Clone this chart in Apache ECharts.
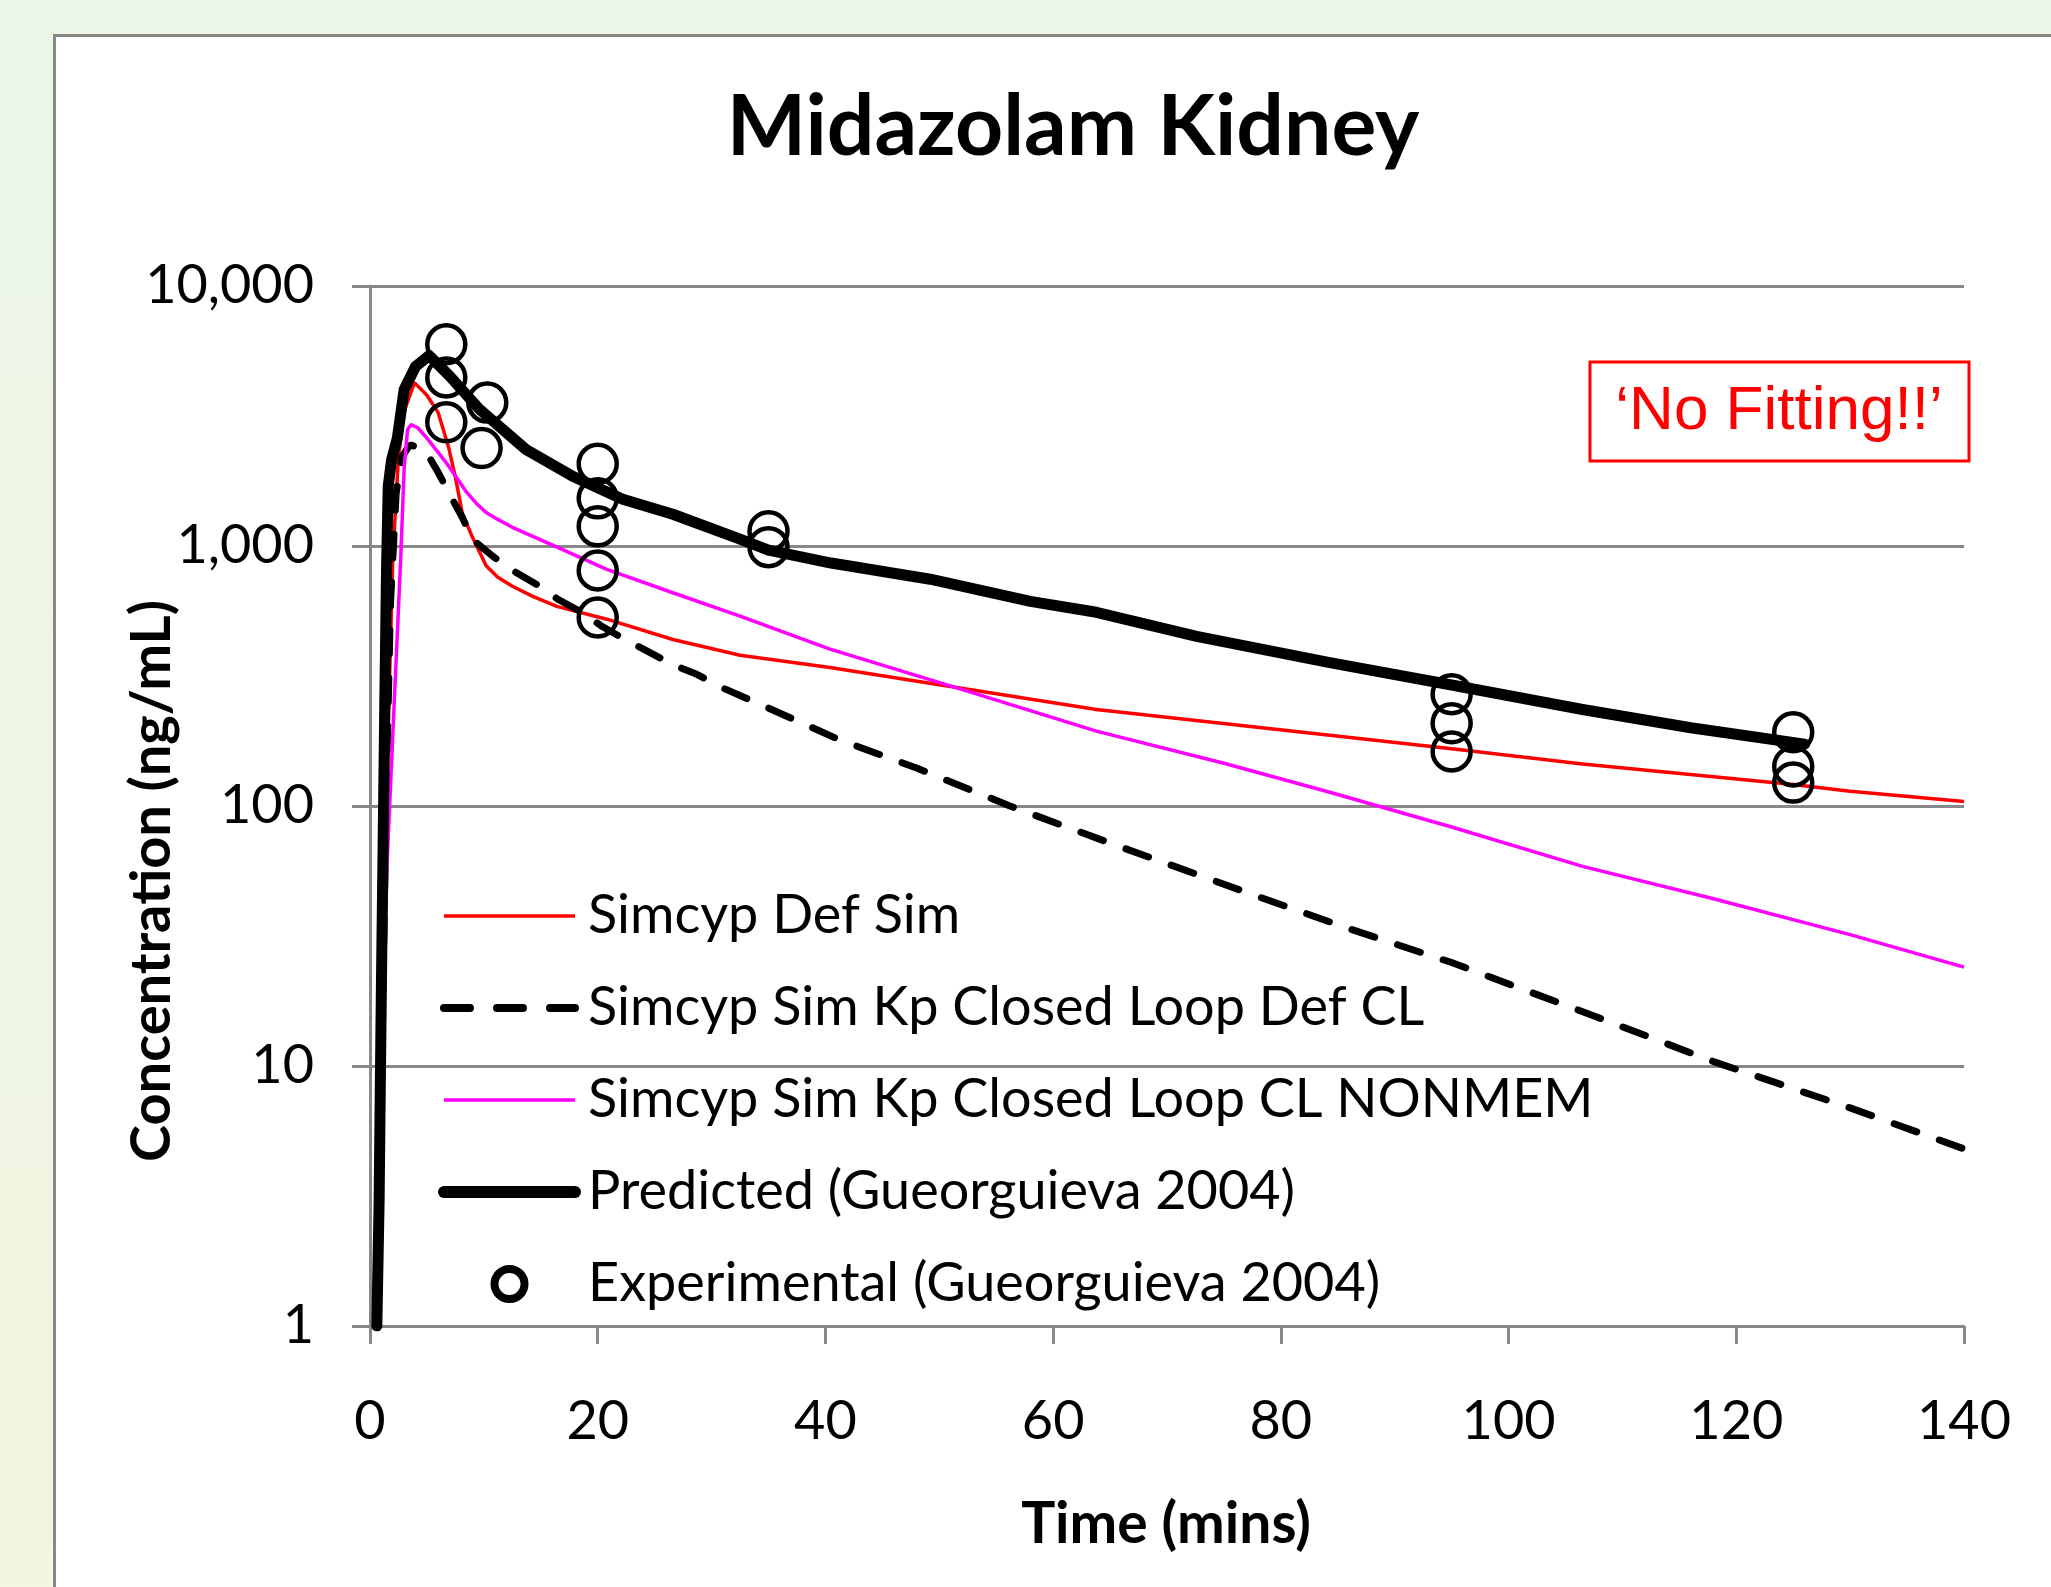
<!DOCTYPE html>
<html>
<head>
<meta charset="utf-8">
<title>Midazolam Kidney</title>
<script src="https://cdn.jsdelivr.net/npm/echarts@6/dist/echarts.min.js"></script>
<style>
  html, body { margin: 0; padding: 0; }
  body {
    width: 2051px; height: 1587px; overflow: hidden; position: relative;
    background: linear-gradient(to bottom, #ebf6e7 0%, #eff6e4 60%, #f3f6e0 100%);
  }
  /* white chart panel with grey frame (runs off the right and bottom edge) */
  #panel {
    position: absolute; left: 53px; top: 34px; width: 2100px; height: 1700px;
    background: #fff; border-left: 3px solid #888; border-top: 3px solid #888;
  }
  #main { position: absolute; left: 0; top: 0; width: 2051px; height: 1587px; }
</style>
</head>
<body>
<div id="panel"></div>
<div id="main"></div>
<script>
// time (mins), concentration (ng/mL)
var simcypDefSim = [
  [0.7, 1.5], [1.0, 5], [1.3, 30], [1.6, 200], [2.0, 900], [2.5, 2200], [3.0, 3300],
  [3.9, 4250], [5.0, 3800], [6.0, 3250], [6.9, 2400], [7.5, 1840], [8.1, 1340],
  [9.0, 1080], [10.2, 840], [11.2, 760], [12.5, 700], [14.3, 640], [16.4, 586],
  [20.8, 523], [26.6, 437], [32.5, 380], [40.4, 341], [51.4, 286], [63.8, 235],
  [84.3, 187], [95, 166], [106.5, 145], [125, 121], [130, 114], [140, 104]
];
var simcypKpDefCL = [
  [0.7, 1], [1.0, 8], [1.4, 100], [1.8, 600], [2.3, 1600], [2.8, 2200], [3.5, 2450],
  [4.8, 2350], [5.9, 1950], [7.0, 1580], [8.1, 1290], [9.0, 1060], [10.8, 912],
  [12.7, 798], [14.6, 713], [16.5, 624], [18.6, 556], [20.4, 490], [22.4, 437],
  [24.6, 389], [26.5, 351], [28.7, 321], [30.7, 288], [35, 238], [41.2, 180],
  [48, 140], [56.2, 100], [65, 72], [77.9, 45], [86.1, 33.6], [95, 25],
  [107.8, 15.4], [118, 10.4], [130, 6.9], [140, 4.8]
];
var simcypKpNonmem = [
  [0.6, 4], [1.0, 12], [1.5, 60], [2.14, 257], [2.7, 900], [3.0, 2000], [3.3, 2800],
  [3.6, 2930], [4.2, 2850], [5.0, 2600], [6.7, 2090], [8.5, 1607], [9.4, 1450],
  [10.2, 1346], [11.3, 1260], [12.5, 1180], [14.9, 1060], [20.8, 813], [26.6, 661],
  [32.5, 537], [40.4, 401], [51.4, 286], [63.8, 194], [75, 146], [84.3, 113],
  [95, 83], [106.5, 58.6], [118, 44], [130, 32], [140, 24]
];
var predicted = [
  [0.6, 1], [0.8, 3], [0.9, 8], [1.0, 20], [1.15, 70], [1.3, 250], [1.45, 800],
  [1.6, 1700], [1.9, 2150], [2.4, 2600], [3.0, 4000], [4.0, 4900], [5.2, 5400],
  [7.0, 4500], [9.6, 3360], [13.7, 2350], [17.8, 1855], [22.2, 1514], [26.6, 1325],
  [32.5, 1062], [35, 965], [40.5, 860], [49.2, 745], [58, 612], [63.8, 556],
  [72.6, 449], [84.3, 356], [95, 292], [106.5, 235], [116, 200], [126, 173]
];
var experimental = [
  [6.7, 5970], [6.7, 4450], [6.7, 2990], [10.3, 3560], [9.8, 2380],
  [20, 2070], [20, 1525], [20, 1190], [20, 805], [20, 531],
  [35, 1140], [35, 990],
  [95, 269], [95, 208], [95, 162],
  [125, 192], [125, 142], [125, 123]
];
var seriesNames = [
  'Simcyp Def Sim',
  'Simcyp Sim Kp Closed Loop Def CL',
  'Simcyp Sim Kp Closed Loop CL NONMEM',
  'Predicted (Gueorguieva 2004)',
  'Experimental (Gueorguieva 2004)'
];
var xTicks = { min: 0, max: 140, interval: 20 };
var yTicks = { min: 1, max: 10000 };

var FONT = 'Lato, "Open Sans", sans-serif';
var GREY = '#888888';
var NO_DOT = { color: 'rgba(0,0,0,0)', borderWidth: 0, opacity: 0 };

var chart = echarts.init(document.getElementById('main'));

var option = {
  backgroundColor: 'transparent',
  animation: false,
  grid: { left: 370, right: 87, top: 286, bottom: 261, containLabel: false },
  xAxis: {
    type: 'value',
    min: xTicks.min, max: xTicks.max, interval: xTicks.interval,
    axisLine: { show: true, onZero: false, lineStyle: { color: GREY, width: 3 } },
    axisTick: { show: true, length: 18, lineStyle: { color: GREY, width: 3 } },
    splitLine: { show: false },
    axisLabel: { color: '#000', fontFamily: FONT, fontSize: 54, margin: 69 }
  },
  yAxis: {
    type: 'log', logBase: 10,
    min: yTicks.min, max: yTicks.max,
    axisLine: { show: true, lineStyle: { color: GREY, width: 3 } },
    axisTick: { show: true, length: 18, lineStyle: { color: GREY, width: 3 } },
    splitLine: { show: true, lineStyle: { color: GREY, width: 3 } },
    minorTick: { show: false },
    axisLabel: {
      color: '#000', fontFamily: FONT, fontSize: 54, margin: 56,
      formatter: function (v) { return Math.round(v).toLocaleString('en-US'); }
    }
  },
  legend: {
    orient: 'vertical',
    left: 438, top: 886, padding: 0,
    itemWidth: 131, itemHeight: 30, itemGap: 32,
    selectedMode: false,
    textStyle: { color: '#000', fontFamily: FONT, fontSize: 54, lineHeight: 60, padding: [0, 0, 0, 8] },
    data: [
      { name: seriesNames[0], itemStyle: NO_DOT, lineStyle: { width: 3.5 } },
      { name: seriesNames[1], itemStyle: NO_DOT, lineStyle: { width: 8, type: [26, 27], cap: 'round' } },
      { name: seriesNames[2], itemStyle: NO_DOT, lineStyle: { width: 3.5 } },
      { name: seriesNames[3], itemStyle: NO_DOT, lineStyle: { width: 12, cap: 'round' } },
      {
        name: seriesNames[4], icon: 'circle',
        itemStyle: { color: 'rgba(0,0,0,0)', borderColor: '#000', borderWidth: 8, opacity: 1 }
      }
    ]
  },
  series: [
    {
      name: seriesNames[0], type: 'line', data: simcypDefSim,
      symbol: 'none', smooth: false,
      lineStyle: { color: '#ff0000', width: 3.5 }, itemStyle: { color: '#ff0000' }
    },
    {
      name: seriesNames[1], type: 'line', data: simcypKpDefCL,
      symbol: 'none', smooth: false,
      lineStyle: { color: '#000', width: 7, type: [24, 24], cap: 'round' }, itemStyle: { color: '#000' }
    },
    {
      name: seriesNames[2], type: 'line', data: simcypKpNonmem,
      symbol: 'none', smooth: false,
      lineStyle: { color: '#ff00ff', width: 3.5 }, itemStyle: { color: '#ff00ff' }
    },
    {
      name: seriesNames[3], type: 'line', data: predicted,
      symbol: 'none', smooth: false,
      lineStyle: { color: '#000', width: 11, cap: 'round', join: 'round' }, itemStyle: { color: '#000' }
    },
    {
      name: seriesNames[4], type: 'scatter', data: experimental,
      symbol: 'circle', symbolSize: 38,
      itemStyle: { color: 'rgba(0,0,0,0)', borderColor: '#000', borderWidth: 4.5, opacity: 1 },
      z: 5
    }
  ],
  graphic: [
    {
      type: 'text', x: 1073, y: 128,
      style: { text: 'Midazolam Kidney', fill: '#000', font: 'bold 84px ' + FONT, align: 'center', verticalAlign: 'middle' }
    },
    {
      type: 'text', x: 1166, y: 1525,
      style: { text: 'Time (mins)', fill: '#000', font: 'bold 57px ' + FONT, align: 'center', verticalAlign: 'middle' }
    },
    {
      type: 'text', x: 152, y: 881, rotation: Math.PI / 2,
      style: { text: 'Concentration (ng/mL)', fill: '#000', font: 'bold 56px ' + FONT, align: 'center', verticalAlign: 'middle' }
    },
    {
      type: 'rect', shape: { x: 1590, y: 362, width: 379, height: 99 },
      style: { fill: '#fff', stroke: '#ff0000', lineWidth: 3 }
    },
    {
      type: 'text', x: 1779, y: 412,
      style: { text: '\u2018No Fitting!!\u2019', fill: '#ff0000', font: '62px "Liberation Sans", Arial, sans-serif', align: 'center', verticalAlign: 'middle' }
    }
  ]
};

chart.setOption(option);
</script>
</body>
</html>
